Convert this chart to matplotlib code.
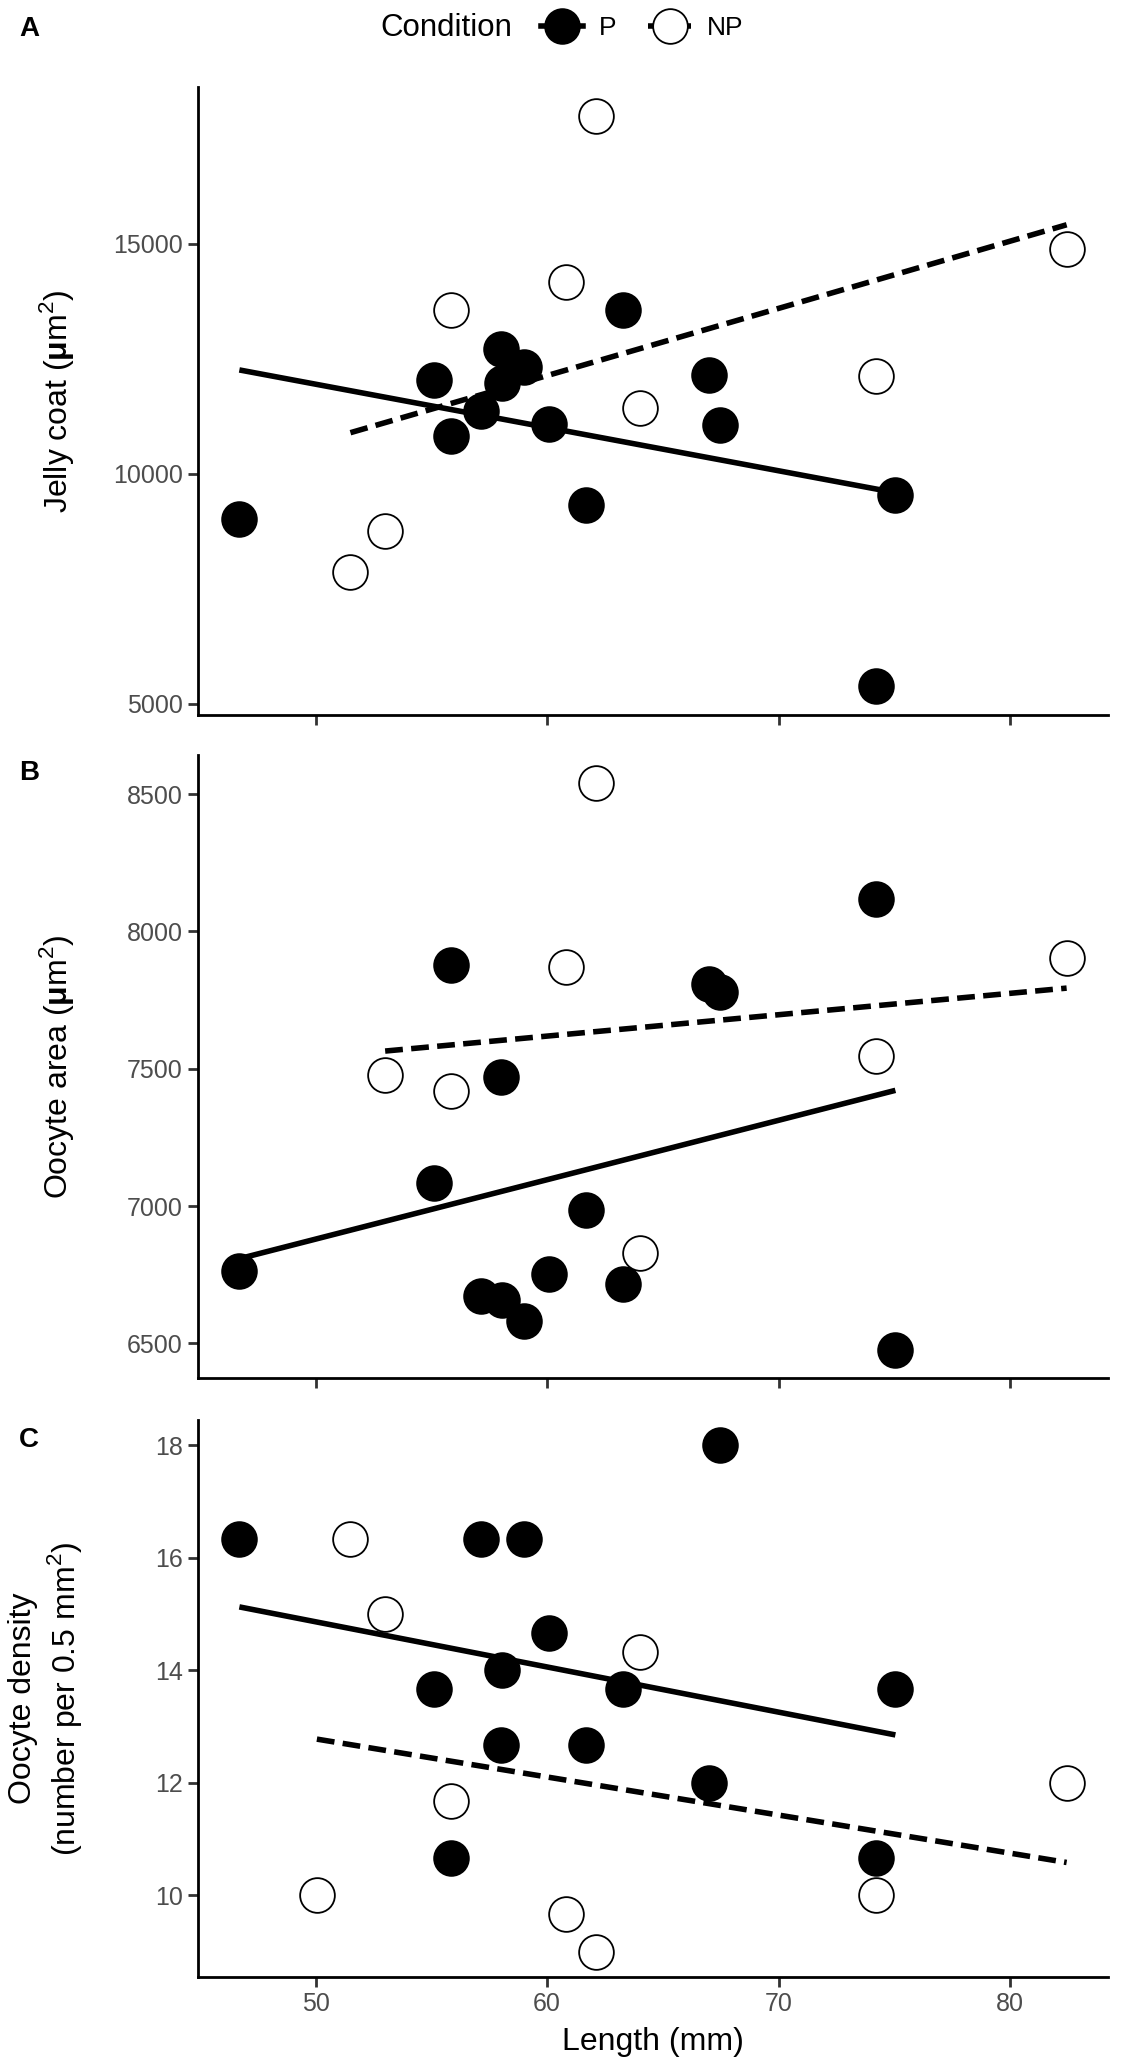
import numpy as np
import matplotlib
matplotlib.use('Agg')
import matplotlib.pyplot as plt
from matplotlib.lines import Line2D

plt.rcParams['font.family'] = ['Liberation Sans', 'DejaVu Sans']
plt.rcParams['mathtext.fontset'] = 'custom'
plt.rcParams['mathtext.rm'] = 'Liberation Sans'
plt.rcParams['mathtext.bf'] = 'Liberation Sans:bold'

# fish lengths (mm)
len_p = [46.7, 55.1, 55.85, 57.15, 58.0, 58.05, 59.0, 60.1, 61.7, 63.3, 67.0, 67.45, 74.2, 75.05]
len_np_a = [51.5, 53.0, 55.85, 60.8, 62.1, 64.0, 74.2, 82.45]
len_np_b = [53.0, 55.85, 60.8, 62.1, 64.0, 74.2, 82.45]
len_np_c = [50.05, 51.5, 53.0, 55.85, 60.8, 62.1, 64.0, 74.2, 82.45]

# A: jelly coat (um^2)
jelly_p = [9022, 12038, 10815, 11377, 12717, 11975, 12328, 11087, 9321, 13560, 12147, 11060, 5380, 9547]
jelly_np = [7871, 8759, 13560, 14167, 17790, 11422, 12129, 14891]

# B: oocyte area (um^2)
area_p = [6763, 7083, 7877, 6673, 7471, 6658, 6581, 6753, 6984, 6717, 7809, 7781, 8118, 6477]
area_np = [7476, 7419, 7869, 8539, 6830, 7547, 7903]

# C: oocyte density (number per 0.5 mm^2)
dens_p = [16.33, 13.67, 10.67, 16.33, 12.67, 14.0, 16.33, 14.67, 12.67, 13.67, 12.0, 18.0, 10.67, 13.67]
dens_np = [10.0, 16.33, 15.0, 11.67, 9.67, 9.0, 14.33, 10.0, 12.0]

x_ticks = [50, 60, 70, 80]
jelly_ticks = [5000, 10000, 15000]
area_ticks = [6500, 7000, 7500, 8000, 8500]
dens_ticks = [10, 12, 14, 16, 18]

W, H = 1122, 2060
fig = plt.figure(figsize=(W / 100, H / 100), dpi=100)

left = 198 / W
width = 910 / W


def expand(vals):
    lo, hi = min(vals), max(vals)
    pad = (hi - lo) * 0.05
    return lo - pad, hi + pad


all_len = len_p + len_np_c
xlim = expand(all_len)


def panel(top_px, bot_px, xp, yp, xn, yn, yticks, ylabel, label_x_px):
    ax = fig.add_axes([left, 1 - bot_px / H, width, (bot_px - top_px) / H])
    for x, y, fc in [(xp, yp, 'black'), (xn, yn, 'white')]:
        ax.plot(x, y, linestyle='none', marker='o', markersize=25,
                markerfacecolor=fc, markeredgecolor='black', markeredgewidth=1.3, zorder=3)
    for x, y, ls in [(xp, yp, '-'), (xn, yn, '--')]:
        k, b = np.polyfit(x, y, 1)
        xs = np.array([min(x), max(x)])
        line, = ax.plot(xs, k * xs + b, color='black', linewidth=4.0, zorder=4,
                        solid_capstyle='butt', dash_capstyle='butt')
        if ls == '--':
            line.set_dashes((3.2, 1.5))
    ax.set_xlim(*xlim)
    ax.set_ylim(*expand(list(yp) + list(yn)))
    ax.set_xticks(x_ticks)
    ax.set_yticks(yticks)
    for s in ['top', 'right']:
        ax.spines[s].set_visible(False)
    for s in ['left', 'bottom']:
        ax.spines[s].set_linewidth(2)
    ax.tick_params(length=7, width=2, color='#333333', labelcolor='#4D4D4D',
                   labelsize=18, pad=4)
    ax.set_ylabel(ylabel, fontsize=23, color='black', linespacing=1.25,
                  va='center', ha='center')
    ax.yaxis.set_label_coords((label_x_px - 198) / 910, 0.5)
    return ax


ax_a = panel(87, 715, len_p, jelly_p, len_np_a, jelly_np, jelly_ticks,
             r'Jelly coat ($\mathbf{\mu}$m$^2$)', 56)
ax_a.tick_params(axis='x', labelbottom=False)

ax_b = panel(755, 1378, len_p, area_p, len_np_b, area_np, area_ticks,
             r'Oocyte area ($\mathbf{\mu}$m$^2$)', 56)
ax_b.tick_params(axis='x', labelbottom=False)

ax_c = panel(1420, 1977, len_p, dens_p, len_np_c, dens_np, dens_ticks,
             'Oocyte density\n(number per 0.5 mm$^2$)', 46)
ax_c.set_xlabel('Length (mm)', fontsize=23, labelpad=8)

for lab, y_px in [('A', 29), ('B', 773), ('C', 1440)]:
    fig.text(19 / W, 1 - y_px / H, lab, fontsize=20, fontweight='bold', va='center', ha='left')

# legend on top
fig.text(380 / W, 1 - 28 / H, 'Condition', fontsize=22.5, va='center', ha='left')
h_p = Line2D([], [], color='black', linewidth=4.0, marker='o', markersize=25,
             markerfacecolor='black', markeredgecolor='black', markeredgewidth=1.3)
h_np = Line2D([], [], color='black', linewidth=4.0, marker='o', markersize=25,
              markerfacecolor='white', markeredgecolor='black', markeredgewidth=1.3,
              dashes=(3.2, 1.5))
fig.legend([h_p, h_np], ['P', 'NP'], loc='center left', ncol=2,
           bbox_to_anchor=(528 / W, 1 - 28 / H), frameon=False, fontsize=19,
           handlelength=1.6, handletextpad=0.6, columnspacing=1.2, borderpad=0)

fig.savefig('out.png', dpi=100)
